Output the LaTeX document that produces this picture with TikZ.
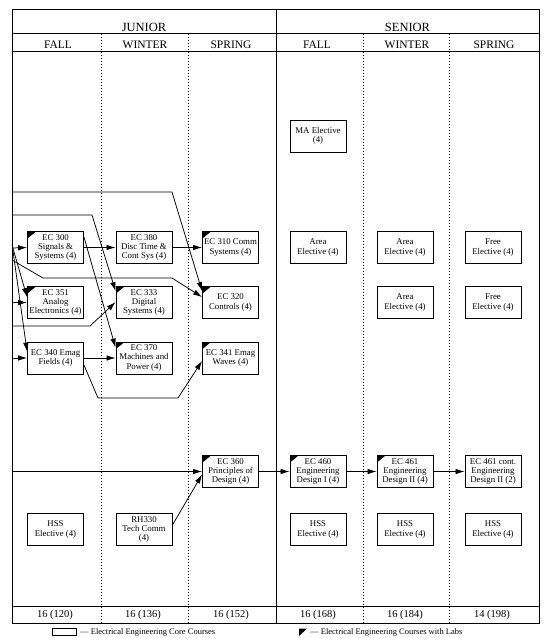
\documentclass[tikz,border=0pt]{standalone}
\usepackage{fontspec}
\setmainfont{Liberation Serif}
\usetikzlibrary{arrows.meta}
\begin{document}
\begin{tikzpicture}[x=1pt,y=-1pt,
  box/.style={draw, line width=0.9pt, minimum width=56pt, minimum height=32pt,
    inner sep=1pt, align=center, font=\fontsize{8.8}{9.2}\selectfont, fill=white},
  arr/.style={-{Latex[length=9pt,width=5.5pt]}, line width=0.75pt},
  frame/.style={line width=0.9pt},
  dots/.style={line width=1pt, dash pattern=on 1.1pt off 1.9pt},
  yearlbl/.style={font=\fontsize{12.5}{13}\selectfont},
  termlbl/.style={font=\fontsize{11.5}{12}\selectfont},
  totlbl/.style={font=\fontsize{10.5}{11}\selectfont},
  leglbl/.style={font=\fontsize{8.5}{9}\selectfont, anchor=west, inner sep=0pt}]
\useasboundingbox (0,0) rectangle (550,638);

% frame
\draw[frame] (12,9) rectangle (539,623);
\draw[frame] (12,33.5) -- (539,33.5);
\draw[frame] (12,51.5) -- (539,51.5);
\draw[frame] (12,606) -- (539,606);
\draw[frame] (276,9) -- (276,623);
\foreach \xx in {101,188,363,449} \draw[dots] (\xx,33.5) -- (\xx,623);

% headers
\node[yearlbl] (hjun) at (144,27) {JUNIOR};
\node[yearlbl] (hsen) at (407.5,27) {SENIOR};
\node[termlbl] (hf1) at (58,45) {FALL};
\node[termlbl] (hw1) at (145,45) {WINTER};
\node[termlbl] (hs1) at (231,45) {SPRING};
\node[termlbl] (hf2) at (317,45) {FALL};
\node[termlbl] (hw2) at (407,45) {WINTER};
\node[termlbl] (hs2) at (494,45) {SPRING};

% totals
\node[totlbl] (t1) at (55,615) {16 (120)};
\node[totlbl] (t2) at (143,615) {16 (136)};
\node[totlbl] (t3) at (231,615) {16 (152)};
\node[totlbl] (t4) at (318,615) {16 (168)};
\node[totlbl] (t5) at (405,615) {16 (184)};
\node[totlbl] (t6) at (492,615) {14 (198)};

% boxes
\node[box] (ma) at (318,136) {MA Elective\\(4)};

\node[box] (ec300) at (55.5,247.5) {EC 300\\Signals \&\\Systems (4)};
\node[box] (ec380) at (144,247.5) {EC 380\\Disc Time \&\\Cont Sys (4)};
\node[box] (ec310) at (230.5,247.5) {EC 310 Comm\\Systems (4)};
\node[box] (ae1) at (318,247.5) {Area\\Elective (4)};
\node[box] (ae2) at (405,247.5) {Area\\Elective (4)};
\node[box] (fe1) at (493,247.5) {Free\\Elective (4)};

\node[box] (ec351) at (55.5,302.5) {EC 351\\Analog\\Electronics (4)};
\node[box] (ec333) at (144,302.5) {EC 333\\Digital\\Systems (4)};
\node[box] (ec320) at (230.5,302.5) {EC 320\\Controls (4)};
\node[box] (ae3) at (405,302.5) {Area\\Elective (4)};
\node[box] (fe2) at (493,302.5) {Free\\Elective (4)};

\node[box] (ec340) at (55.5,358) {EC 340 Emag\\Fields (4)};
\node[box] (ec370) at (144,358) {EC 370\\Machines and\\Power (4)};
\node[box] (ec341) at (230.5,358) {EC 341 Emag\\Waves (4)};

\node[box] (ec360) at (230.5,471.5) {EC 360\\Principles of\\Design (4)};
\node[box] (ec460) at (318,471.5) {EC 460\\Engineering\\Design I (4)};
\node[box] (ec461) at (405,471.5) {EC 461\\Engineering\\Design II (4)};
\node[box] (ec461c) at (493,471.5) {EC 461 cont.\\Engineering\\Design II (2)};

\node[box] (hss1) at (55.5,529.5) {HSS\\Elective (4)};
\node[box] (rh330) at (144,529.5) {RH330\\Tech Comm\\(4)};
\node[box] (hss2) at (318,529.5) {HSS\\Elective (4)};
\node[box] (hss3) at (405,529.5) {HSS\\Elective (4)};
\node[box] (hss4) at (493,529.5) {HSS\\Elective (4)};

% lab markers
\foreach \n in {ec300,ec310,ec351,ec333,ec320,ec370,ec341,ec360,ec460,ec461}
  \fill ([shift={(0.45pt,-0.45pt)}]\n.north west) -- ++(8.5pt,0pt) -- ++(-8.5pt,-7pt) -- cycle;

% prerequisite entry points on the left frame
\coordinate (pa) at (12,192);
\coordinate (pb) at (12,215);
\coordinate (pc) at (12,248);
\coordinate (pc1) at (12,245);
\coordinate (pc2) at (13,251);
\coordinate (pd) at (12,260);
\coordinate (pe) at (12,302.5);
\coordinate (pf) at (12,326);
\coordinate (pg) at (12,358);
\coordinate (ph) at (12,471.5);

% connectors
\draw[arr] (pa) -- (172,192) -- ([yshift=-5pt]ec320.north west);
\draw[arr] (pb) -- (92,215) -- ([yshift=-5pt]ec333.north west);
\draw[arr] (pc) -- (ec300.west);
\draw[arr] (pc1) -- ([yshift=-11pt]ec351.north west);
\draw[arr] (pc2) -- ([yshift=-10pt]ec340.north west);
\draw[arr] (pd) -- (43,278) -- (172,278) -- ([yshift=-11pt]ec320.north west);
\draw[arr] (pe) -- (ec351.west);
\draw[arr] (pf) -- (90,326) -- ([yshift=-16pt]ec333.north west);
\draw[arr] (pg) -- (ec340.west);
\draw[arr] (ph) -- (ec360.west);

\draw[arr] (ec300.east) -- (ec380.west);
\draw[arr] (ec380.east) -- (ec310.west);
\draw[arr] ([yshift=-6pt]ec300.north east) -- ([yshift=-6pt]ec370.north west);
\draw[arr] (ec340.east) -- (ec370.west);
\draw[arr] ([yshift=-7pt]ec340.east) -- (98,398) -- (178,398) -- ([yshift=-3pt]ec341.west);
\draw[arr] ([yshift=4.5pt]rh330.east) -- ([yshift=-3pt]ec360.west);
\draw[arr] (ec360.east) -- (ec460.west);
\draw[arr] (ec460.east) -- (ec461.west);
\draw[arr] (ec461.east) -- (ec461c.west);

% legend
\node[draw, line width=0.8pt, minimum width=24pt, minimum height=7pt, inner sep=0pt] (legbox) at (64,632) {};
\node[leglbl] (legcore) at (80,632) {— Electrical Engineering Core Courses};
\fill (299,628.5) -- (307,628.5) -- (299,636) -- cycle;
\node[leglbl] (leglab) at (310,632) {— Electrical Engineering Courses with Labs};
\end{tikzpicture}
\end{document}
